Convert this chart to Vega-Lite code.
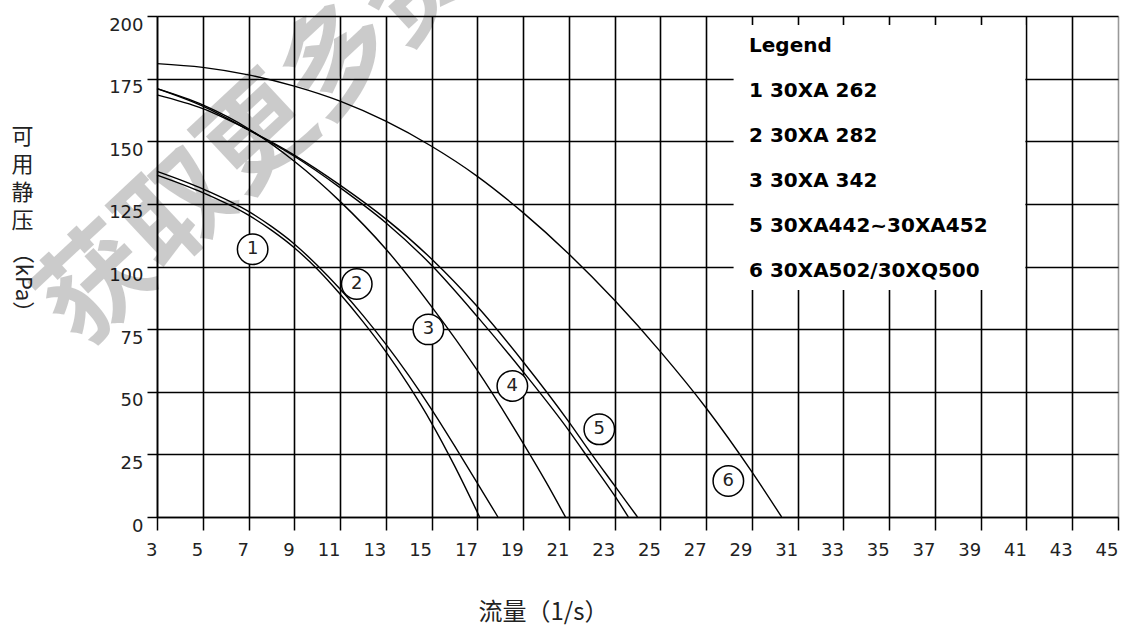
{
  "$schema": "https://vega.github.io/schema/vega-lite/v6.json",
  "width": 961,
  "height": 501,
  "autosize": {"type": "none"},
  "padding": {"left": 157, "top": 16, "right": 7, "bottom": 111},
  "background": "white",
  "config": {"view": {"stroke": null}, "font": "DejaVu Sans"},
  "datasets": {
    "curves": [
      {"curve": "1", "q": 3, "p": 136.5}, {"curve": "1", "q": 5, "p": 129.5}, {"curve": "1", "q": 7, "p": 120.5}, {"curve": "1", "q": 8, "p": 114.5}, {"curve": "1", "q": 9, "p": 107.5}, {"curve": "1", "q": 10, "p": 99}, {"curve": "1", "q": 11, "p": 89}, {"curve": "1", "q": 12, "p": 78}, {"curve": "1", "q": 13, "p": 66}, {"curve": "1", "q": 14, "p": 52.5}, {"curve": "1", "q": 15, "p": 37.5}, {"curve": "1", "q": 16, "p": 20.5}, {"curve": "1", "q": 17.1, "p": 0},
      {"curve": "2", "q": 3, "p": 138}, {"curve": "2", "q": 5, "p": 131}, {"curve": "2", "q": 7, "p": 122}, {"curve": "2", "q": 8, "p": 116}, {"curve": "2", "q": 9, "p": 109}, {"curve": "2", "q": 10, "p": 100.5}, {"curve": "2", "q": 11, "p": 91}, {"curve": "2", "q": 12, "p": 80.5}, {"curve": "2", "q": 13, "p": 69}, {"curve": "2", "q": 14, "p": 56.5}, {"curve": "2", "q": 15, "p": 43}, {"curve": "2", "q": 16, "p": 28.5}, {"curve": "2", "q": 17, "p": 13.5}, {"curve": "2", "q": 17.9, "p": 0},
      {"curve": "3", "q": 3, "p": 171}, {"curve": "3", "q": 5, "p": 164.5}, {"curve": "3", "q": 7, "p": 155}, {"curve": "3", "q": 9, "p": 142}, {"curve": "3", "q": 11, "p": 126}, {"curve": "3", "q": 13, "p": 107}, {"curve": "3", "q": 15, "p": 84}, {"curve": "3", "q": 17, "p": 58.5}, {"curve": "3", "q": 19, "p": 29.5}, {"curve": "3", "q": 20, "p": 14}, {"curve": "3", "q": 20.85, "p": 0},
      {"curve": "4", "q": 3, "p": 171}, {"curve": "4", "q": 5, "p": 164}, {"curve": "4", "q": 7, "p": 154.5}, {"curve": "4", "q": 9, "p": 144}, {"curve": "4", "q": 11, "p": 131.5}, {"curve": "4", "q": 13, "p": 117.5}, {"curve": "4", "q": 15, "p": 100.5}, {"curve": "4", "q": 17, "p": 80}, {"curve": "4", "q": 19, "p": 58}, {"curve": "4", "q": 21, "p": 34.5}, {"curve": "4", "q": 22, "p": 21.5}, {"curve": "4", "q": 23, "p": 8.5}, {"curve": "4", "q": 23.6, "p": 0},
      {"curve": "5", "q": 3, "p": 168.5}, {"curve": "5", "q": 5, "p": 163}, {"curve": "5", "q": 7, "p": 154.5}, {"curve": "5", "q": 9, "p": 144.5}, {"curve": "5", "q": 11, "p": 132.5}, {"curve": "5", "q": 13, "p": 119}, {"curve": "5", "q": 15, "p": 103}, {"curve": "5", "q": 17, "p": 84}, {"curve": "5", "q": 19, "p": 62}, {"curve": "5", "q": 21, "p": 38}, {"curve": "5", "q": 22, "p": 25}, {"curve": "5", "q": 23, "p": 12.5}, {"curve": "5", "q": 24, "p": 0},
      {"curve": "6", "q": 3, "p": 181}, {"curve": "6", "q": 5, "p": 179.5}, {"curve": "6", "q": 7, "p": 176.5}, {"curve": "6", "q": 9, "p": 172}, {"curve": "6", "q": 11, "p": 166}, {"curve": "6", "q": 13, "p": 158}, {"curve": "6", "q": 15, "p": 148}, {"curve": "6", "q": 17, "p": 136}, {"curve": "6", "q": 19, "p": 121.5}, {"curve": "6", "q": 21, "p": 105}, {"curve": "6", "q": 23, "p": 86.5}, {"curve": "6", "q": 25, "p": 66}, {"curve": "6", "q": 27, "p": 43.5}, {"curve": "6", "q": 29, "p": 18}, {"curve": "6", "q": 30.3, "p": 0}
    ],
    "labels": [
      {"n": "1", "q": 7.18, "p": 106.9},
      {"n": "2", "q": 11.73, "p": 93},
      {"n": "3", "q": 14.86, "p": 74.9},
      {"n": "4", "q": 18.53, "p": 52.3},
      {"n": "5", "q": 22.33, "p": 35},
      {"n": "6", "q": 27.97, "p": 14.4}
    ],
    "legend": [
      {"model": "1 30XA 262"},
      {"model": "2 30XA 282"},
      {"model": "3 30XA 342"},
      {"model": "5 30XA442~30XA452"},
      {"model": "6 30XA502/30XQ500"}
    ],
    "watermark": [{"text": "获取更多资料", "q": 9.25, "p": 166.5}]
  },
  "layer": [
    {
      "layer": [
        {
          "data": {"values": [{}]},
          "mark": {"type": "rect", "fill": "white"},
          "encoding": {
            "x": {"datum": 28.2, "type": "quantitative"},
            "x2": {"datum": 40.95},
            "y": {"datum": 90.6, "type": "quantitative"},
            "y2": {"datum": 196.4}
          }
        },
        {
          "data": {"name": "curves"},
          "mark": {"type": "line", "color": "black", "strokeWidth": 1.4, "interpolate": "monotone"},
          "encoding": {
            "x": {
              "field": "q", "type": "quantitative",
              "scale": {"domain": [3, 45], "nice": false, "zero": false},
              "axis": {
                "values": [3, 5, 7, 9, 11, 13, 15, 17, 19, 21, 23, 25, 27, 29, 31, 33, 35, 37, 39, 41, 43, 45],
                "title": "流量（1/s）",
                "titleFont": "Noto Sans CJK SC", "titleFontSize": 24, "titleFontWeight": "normal", "titleColor": "#222",
                "titleX": 386, "titleY": 95, "titleAlign": "center", "titleBaseline": "middle",
                "labelFont": "DejaVu Sans", "labelFontSize": 18, "labelColor": "#222",
                "labelAlign": "right", "labelDx": 3, "labelPadding": 11, "labelBaseline": "top",
                "labelFlush": false, "labelOverlap": false, "labelBound": false,
                "tickSize": 13, "tickColor": "black", "tickWidth": 1.5,
                "domainColor": "black", "domainWidth": 1.5,
                "grid": true, "gridColor": {"condition": {"test": "datum.value === 45", "value": "#999999"}, "value": "black"}, "gridWidth": 1.6, "gridOpacity": 1
              }
            },
            "y": {
              "field": "p", "type": "quantitative",
              "scale": {"domain": [0, 200], "nice": false, "zero": false},
              "axis": {
                "values": [0, 25, 50, 75, 100, 125, 150, 175, 200],
                "title": ["可", "用", "静", "压"],
                "titleAngle": 0, "titleFont": "Noto Sans CJK SC", "titleFontSize": 22, "titleFontWeight": "normal", "titleColor": "#222",
                "titleX": -135, "titleY": 110, "titleAlign": "center", "titleBaseline": "top", "titleLineHeight": 28,
                "labelFont": "DejaVu Sans", "labelFontSize": 18, "labelColor": "#222",
                "labelPadding": 4, "labelBaseline": "top", "labelFlush": false, "labelOverlap": false, "labelBound": false,
                "tickSize": 10, "tickColor": "black", "tickWidth": 1.5,
                "domainColor": "black", "domainWidth": 1.5,
                "grid": true, "gridColor": "black", "gridWidth": 1.6, "gridOpacity": 1
              }
            },
            "detail": {"field": "curve", "type": "nominal"}
          }
        },
        {
          "data": {"name": "labels"},
          "mark": {"type": "point", "shape": "circle", "size": 930, "filled": true, "fill": "white", "stroke": "black", "strokeWidth": 1.5, "opacity": 1},
          "encoding": {
            "x": {"field": "q", "type": "quantitative"},
            "y": {"field": "p", "type": "quantitative"}
          }
        },
        {
          "data": {"name": "labels"},
          "mark": {"type": "text", "font": "DejaVu Sans", "fontSize": 18, "fill": "#222", "align": "center", "baseline": "middle"},
          "encoding": {
            "x": {"field": "q", "type": "quantitative"},
            "y": {"field": "p", "type": "quantitative"},
            "text": {"field": "n"}
          }
        },
        {
          "data": {"name": "watermark"},
          "mark": {"type": "text", "font": "Noto Sans CJK SC", "fontSize": 110, "fontWeight": "bold", "angle": -43, "fill": "black", "opacity": 0.2, "align": "center", "baseline": "middle"},
          "encoding": {
            "x": {"field": "q", "type": "quantitative"},
            "y": {"field": "p", "type": "quantitative"},
            "text": {"field": "text"}
          }
        }
      ]
    },
    {
      "data": {"name": "legend"},
      "mark": {"type": "point", "opacity": 0},
      "encoding": {
        "y": {
          "datum": 100, "type": "quantitative",
          "scale": {"domain": [0, 200], "nice": false},
          "axis": {
            "orient": "left", "title": "（kPa）", "labels": false, "ticks": false, "domain": false, "grid": false,
            "titleAngle": 90, "titleX": -135, "titleY": 266, "titleAlign": "center", "titleBaseline": "middle",
            "titleFont": "Noto Sans CJK SC", "titleFontSize": 22, "titleFontWeight": "normal", "titleColor": "#222"
          }
        },
        "color": {
          "field": "model", "type": "nominal", "sort": null,
          "scale": {"range": ["black"]},
          "legend": {
            "orient": "none", "legendX": 592, "legendY": 20, "direction": "vertical",
            "title": "Legend", "titleFont": "DejaVu Sans", "titleFontSize": 20, "titleFontWeight": "bold", "titleColor": "black", "titlePadding": 25,
            "labelFont": "DejaVu Sans", "labelFontSize": 20, "labelFontWeight": "bold", "labelColor": "black", "labelOffset": -20, "labelLimit": 500,
            "symbolSize": 0, "symbolOpacity": 0, "symbolStrokeWidth": 0, "symbolType": "circle",
            "rowPadding": 25, "padding": 0, "offset": 0
          }
        }
      }
    }
  ],
  "resolve": {"scale": {"y": "independent"}}
}
